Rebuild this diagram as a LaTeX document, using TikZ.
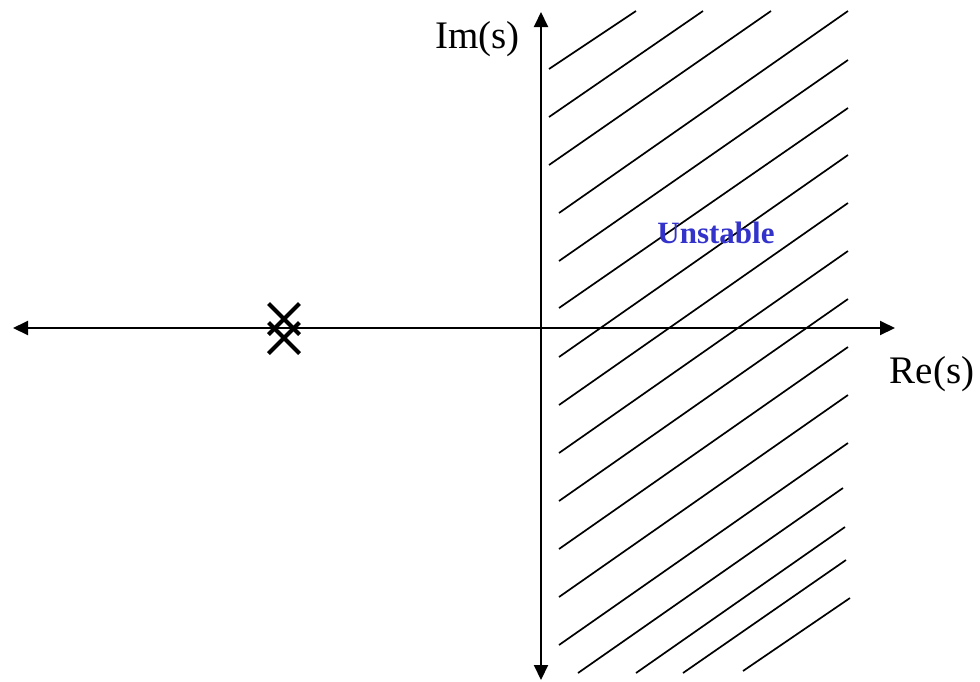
\documentclass[tikz,border=0pt]{standalone}
\usepackage{fontspec}
\setmainfont{Liberation Serif}
\usetikzlibrary{arrows.meta}
\definecolor{unstableblue}{RGB}{51,51,204}
\begin{document}
\begin{tikzpicture}[x=1pt,y=-1pt,
  axis/.style={line width=2pt, {Triangle[length=15pt,width=14pt]}-{Triangle[length=15pt,width=14pt]}},
  hatch/.style={line width=1.7pt},
  pole/.style={line width=4pt},
  axislabel/.style={font=\fontsize{39}{44}\selectfont, inner sep=0pt, anchor=base},
  regionlabel/.style={font=\bfseries\fontsize{31}{36}\selectfont, text=unstableblue, inner sep=0pt, anchor=base}]
\useasboundingbox (0,0) rectangle (980,681);
% hatch of the unstable region
\foreach \xa/\ya/\xb/\yb in {549/69/636/11, 549/117/703/11, 549/165/771/11, 559/213/848/11,
  559/261/848/60, 559/308/848/108, 559/357/848/155, 559/405/848/203, 559/453/848/251,
  559/501/848/299, 559/549/848/347, 559/597/848/395, 559/645/848/443,
  578/673/843/488, 636/673/845/527, 683/673/846/560, 743/671/850/598}
  \draw[hatch] (\xa,\ya) -- (\xb,\yb);
% axes
\coordinate (reL) at (13,328);
\coordinate (reR) at (895,328);
\coordinate (imB) at (541,680);
\coordinate (imT) at (541,12);
\draw[axis] (reL) -- (reR);
\draw[axis] (imB) -- (imT);
% labels
\node[axislabel] (imlabel) at (477.5,48) {Im(s)};
\node[axislabel] (relabel) at (932,383) {Re(s)};
\node[regionlabel] (unstable) at (716,243) {Unstable};
% double pole
\coordinate (p1) at (284,319);
\coordinate (p2) at (284,338);
\foreach \p in {p1,p2}{
  \draw[pole] ([shift={(-15.5,-15.5)}]\p) -- ([shift={(15.5,15.5)}]\p);
  \draw[pole] ([shift={(-15.5,15.5)}]\p) -- ([shift={(15.5,-15.5)}]\p);
}
\end{tikzpicture}
\end{document}
